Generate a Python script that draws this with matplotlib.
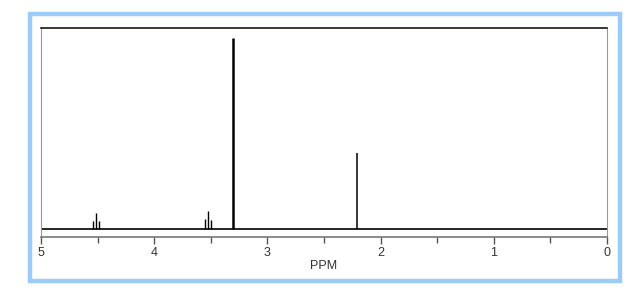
import matplotlib
matplotlib.use('Agg')
import matplotlib.pyplot as plt
from matplotlib.patches import Rectangle

# peak list (ppm, height in px above baseline)
peak_ppm = [4.545, 4.517, 4.489,
            3.548, 3.523, 3.498,
            3.300,
            2.210]
peak_height = [8, 16, 8,
               10, 18, 9,
               191,
               76]
peak_width = [1.0, 1.0, 1.0,
              1.0, 1.0, 1.0,
              1.8,
              1.1]

ppm_ticks = [5, 4, 3, 2, 1, 0]
ppm_minor = [4.5, 3.5, 2.5, 1.5, 0.5]

W, H = 640, 308
fig = plt.figure(figsize=(W / 100, H / 100), dpi=100)
fig.patch.set_facecolor('white')

# light blue frame around the whole chart
frame = Rectangle((30 / W, 1 - 281 / H), 590 / W, 267 / H, transform=fig.transFigure,
                  fill=False, edgecolor='#9dcbf7', linewidth=3.2)
fig.patches.append(frame)

ax = fig.add_axes([41 / W, 1 - 237 / H, 566 / W, 209 / H])
ax.set_xlim(5, 0)
ax.set_ylim(-8, 201)

ax.axhline(0, color='black', linewidth=1.2)
ax.vlines(peak_ppm, 0, peak_height, color='black', linewidth=peak_width)

ax.set_xticks(ppm_ticks)
ax.set_xticklabels([str(t) for t in ppm_ticks])
ax.set_xticks(ppm_minor, minor=True)
ax.set_yticks([])
ax.tick_params(axis='x', which='major', direction='out', length=5, width=1,
               color='#555555', labelsize=9, pad=2, labelcolor='#333333')
ax.tick_params(axis='x', which='minor', direction='out', length=4, width=1, color='#555555')
for lbl in ax.get_xticklabels():
    lbl.set_fontfamily('Liberation Sans')

ax.spines['top'].set_color('black')
ax.spines['top'].set_linewidth(1.1)
ax.spines['left'].set_color('#999999')
ax.spines['right'].set_color('#999999')
ax.spines['bottom'].set_color('#777777')
ax.spines['bottom'].set_linewidth(1.2)

ax.set_xlabel('PPM', fontsize=9, family='Liberation Sans', color='#333333', labelpad=1)

fig.savefig('out.png', dpi=100, facecolor='white')
